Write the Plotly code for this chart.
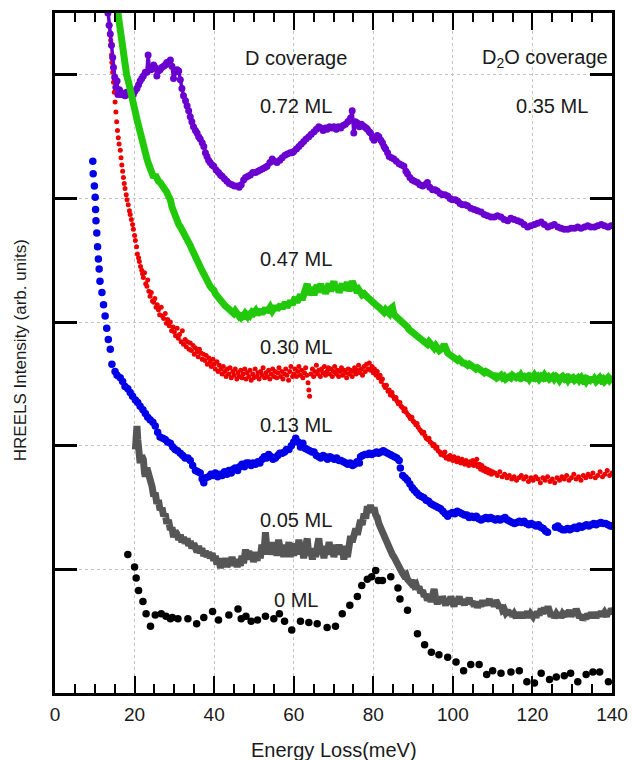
import plotly.graph_objects as go

# HREELS spectra of D2O (0.35 ML) on surfaces with increasing pre-adsorbed D coverage.
# Each spectrum is a list of (energy loss in meV, intensity in arb. units, incl. vertical offset).

D_000 = [(18.3,1.12),(20.0,1.02),(20.4,0.93),(21.0,0.83),(22.1,0.74),(22.9,0.64),(24.0,0.54),(25.2,0.63),
         (26.7,0.64),(27.9,0.62),(29.0,0.60),(29.5,0.61),(30.9,0.60),(33.4,0.60),(35.6,0.56),(37.4,0.61),
         (39.6,0.66),(41.1,0.59),(43.7,0.63),(46.0,0.68),(46.8,0.60),(48.0,0.62),(49.3,0.58),(50.9,0.59),
         (52.9,0.62),(55.0,0.60),(56.4,0.64),(57.7,0.58),(59.5,0.51),(61.7,0.58),(63.8,0.57),(65.9,0.56),
         (68.4,0.53),(70.5,0.54),(72.2,0.64),(74.1,0.71),(76.0,0.78),(77.1,0.87),(78.5,0.92),(79.6,0.94),
         (80.6,0.99),(81.3,0.91),(82.3,0.91),(84.4,0.94),(86.2,0.85),(86.7,0.76),(88.6,0.67),(91.1,0.48),
         (92.9,0.39),(94.6,0.33),(96.5,0.31),(98.7,0.29),(100.8,0.25),(102.7,0.18),(104.5,0.23),(106.6,0.23),
         (108.5,0.15),(110.0,0.18),(112.1,0.16),(114.6,0.17),(116.7,0.18),(118.6,0.09),(120.5,0.08),(122.2,0.16),
         (124.3,0.11),(126.0,0.13),(128.0,0.14),(129.6,0.16),(131.4,0.09),(133.5,0.15),(135.2,0.17),(136.9,0.17),
         (139.1,0.09)]

D_005 = [(20.2,1.97),(20.4,2.10),(20.6,2.16),(20.8,2.05),(21.0,1.99),(21.2,1.90),(21.4,1.86),(21.8,1.92),
         (22.2,1.89),(22.5,1.78),(22.7,1.75),(23.1,1.82),(23.5,1.78),(23.9,1.70),(24.4,1.67),(24.8,1.59),
         (25.2,1.62),(25.6,1.53),(26.0,1.56),(26.4,1.48),(26.9,1.50),(27.3,1.43),(27.7,1.45),(28.1,1.37),
         (28.5,1.40),(29.0,1.32),(29.4,1.34),(29.8,1.26),(30.2,1.31),(30.6,1.29),(31.1,1.24),(31.5,1.28),
         (31.9,1.22),(32.3,1.26),(32.7,1.21),(33.2,1.25),(33.6,1.19),(34.0,1.23),(34.4,1.17),(34.9,1.21),
         (35.3,1.18),(35.7,1.14),(36.1,1.19),(36.5,1.13),(36.9,1.17),(37.4,1.11),(37.8,1.15),(38.2,1.10),
         (38.6,1.14),(39.0,1.09),(39.5,1.13),(39.9,1.07),(40.3,1.11),(40.7,1.04),(41.2,1.09),(41.6,1.01),
         (42.0,1.07),(42.4,1.03),(42.8,1.09),(43.2,1.02),(43.7,1.07),(44.1,1.03),(44.5,1.10),(44.9,1.04),
         (45.3,1.08),(45.8,1.02),(46.2,1.07),(46.6,1.03),(47.0,1.11),(47.4,1.05),(47.9,1.16),(48.3,1.09),
         (48.7,1.15),(49.1,1.08),(49.5,1.14),(49.9,1.06),(50.4,1.12),(50.8,1.07),(51.2,1.14),(51.6,1.09),
         (52.0,1.20),(52.5,1.12),(52.9,1.30),(53.3,1.14),(53.7,1.22),(54.1,1.12),(54.6,1.19),(55.0,1.13),
         (55.4,1.22),(55.8,1.11),(56.2,1.24),(56.7,1.14),(57.1,1.20),(57.5,1.10),(57.9,1.19),(58.3,1.12),
         (58.8,1.22),(59.2,1.10),(59.6,1.18),(60.0,1.11),(60.4,1.21),(60.8,1.13),(61.3,1.24),(61.7,1.12),
         (62.1,1.20),(62.5,1.09),(62.9,1.18),(63.4,1.25),(63.8,1.11),(64.2,1.17),(64.7,1.08),(65.1,1.16),
         (65.5,1.10),(65.9,1.22),(66.3,1.25),(66.8,1.12),(67.2,1.19),(67.6,1.09),(68.0,1.18),(68.4,1.12),
         (68.9,1.22),(69.3,1.14),(69.7,1.20),(70.1,1.10),(70.5,1.17),(71.0,1.12),(71.4,1.20),(71.8,1.13),
         (72.2,1.19),(72.6,1.08),(73.0,1.15),(73.5,1.10),(73.9,1.20),(74.3,1.27),(74.7,1.22),(75.1,1.29),
         (75.6,1.33),(76.0,1.28),(76.4,1.36),(76.8,1.40),(77.2,1.36),(77.7,1.45),(78.1,1.41),(78.5,1.51),
         (78.9,1.47),(79.3,1.52),(79.7,1.46),(80.2,1.50),(80.6,1.44),(81.0,1.42),(81.4,1.37),(81.9,1.33),
         (82.3,1.30),(82.7,1.26),(83.1,1.24),(83.5,1.20),(83.9,1.18),(84.4,1.16),(84.8,1.12),(85.2,1.10),
         (85.6,1.07),(86.1,1.04),(86.5,1.02),(86.9,1.00),(87.3,0.97),(87.7,0.95),(88.2,0.96),(88.6,0.92),
         (89.0,0.91),(89.4,0.89),(89.8,0.91),(90.3,0.87),(90.7,0.88),(91.1,0.84),(91.5,0.86),(91.9,0.81),
         (92.4,0.83),(92.8,0.78),(93.2,0.80),(93.6,0.75),(94.0,0.78),(94.5,0.74),(94.9,0.79),(95.3,0.84),
         (95.7,0.76),(96.1,0.72),(96.6,0.77),(97.0,0.73),(97.4,0.78),(97.8,0.74),(98.2,0.71),(98.7,0.76),
         (99.1,0.72),(99.5,0.78),(99.9,0.73),(100.3,0.70),(100.8,0.76),(101.2,0.74),(101.6,0.78),(102.0,0.72),
         (102.5,0.75),(102.9,0.71),(103.3,0.76),(103.7,0.73),(104.1,0.77),(104.5,0.72),(105.0,0.74),(105.4,0.70),
         (105.8,0.74),(106.2,0.69),(106.6,0.73),(107.1,0.70),(107.5,0.75),(107.9,0.71),(108.3,0.74),(108.7,0.72),
         (109.2,0.76),(109.6,0.71),(110.0,0.74),(110.4,0.70),(110.8,0.75),(111.2,0.72),(111.7,0.69),(112.1,0.71),
         (112.5,0.67),(112.9,0.68),(113.3,0.65),(113.8,0.67),(114.2,0.63),(114.6,0.66),(115.0,0.62),(115.4,0.64),
         (115.9,0.61),(116.3,0.65),(116.7,0.62),(117.1,0.64),(117.5,0.61),(118.0,0.65),(118.4,0.62),(118.8,0.66),
         (119.2,0.61),(119.6,0.64),(120.1,0.62),(120.5,0.65),(120.9,0.61),(121.3,0.66),(121.7,0.63),(122.2,0.68),
         (122.6,0.64),(123.0,0.69),(123.4,0.65),(123.9,0.70),(124.3,0.64),(124.7,0.62),(125.1,0.65),(125.5,0.61),
         (126.0,0.64),(126.4,0.62),(126.8,0.65),(127.2,0.61),(127.6,0.64),(128.1,0.62),(128.5,0.66),(128.9,0.63),
         (129.3,0.67),(129.7,0.62),(130.2,0.66),(130.6,0.63),(131.0,0.68),(131.4,0.64),(131.8,0.61),(132.3,0.63),
         (132.7,0.59),(133.1,0.62),(133.5,0.60),(133.9,0.64),(134.4,0.61),(134.8,0.65),(135.2,0.62),(135.6,0.64),
         (136.0,0.61),(136.5,0.65),(136.9,0.62),(137.3,0.66),(137.7,0.63),(138.1,0.65),(138.6,0.62),(139.0,0.66),
         (139.4,0.64),(139.8,0.68),(140.2,0.66)]

D_013 = [(9.5,4.30),(9.6,4.20),(9.9,4.10),(10.1,4.01),(10.2,3.91),(10.3,3.82),(10.5,3.72),(10.7,3.61),
         (10.9,3.51),(11.1,3.43),(11.3,3.33),(11.8,3.24),(12.2,3.14),(12.6,3.05),(13.0,2.95),(13.4,2.86),
         (13.9,2.78),(14.3,2.66),(15.1,2.60),(15.6,2.57),(16.4,2.55),(17.0,2.52),(17.6,2.48),(18.3,2.46),
         (18.9,2.43),(19.5,2.40),(20.2,2.37),(20.8,2.35),(21.4,2.32),(22.1,2.29),(22.7,2.26),(23.3,2.23),
         (23.9,2.21),(24.6,2.19),(25.2,2.16),(25.8,2.11),(26.4,2.07),(27.1,2.06),(27.7,2.05),(28.3,2.03),
         (29.0,2.02),(29.6,1.99),(30.2,1.97),(30.8,1.96),(31.5,1.94),(32.1,1.92),(32.7,1.90),(33.4,1.90),
         (34.0,1.88),(34.6,1.84),(35.3,1.80),(35.9,1.79),(36.5,1.78),(37.0,1.73),(37.4,1.70),(37.9,1.74),
         (38.6,1.75),(39.2,1.77),(39.8,1.76),(40.3,1.78),(40.9,1.75),(41.5,1.77),(42.0,1.76),(42.6,1.79),
         (43.2,1.77),(43.7,1.80),(44.3,1.78),(44.8,1.81),(45.3,1.82),(45.9,1.80),(46.4,1.83),(47.0,1.85),
         (47.6,1.83),(48.1,1.86),(48.7,1.86),(49.3,1.84),(49.8,1.86),(50.4,1.85),(51.0,1.87),(51.5,1.86),
         (52.1,1.89),(52.6,1.91),(53.2,1.90),(53.7,1.93),(54.3,1.91),(54.8,1.89),(55.4,1.90),(56.0,1.92),
         (56.5,1.94),(57.1,1.94),(57.7,1.95),(58.2,1.97),(58.8,1.97),(59.4,2.00),(60.0,2.03),(60.5,2.06),
         (61.1,2.03),(61.7,1.99),(62.3,2.02),(62.8,1.98),(63.4,1.97),(64.0,1.96),(64.6,1.95),(65.1,1.95),
         (65.7,1.92),(66.3,1.91),(66.8,1.90),(67.4,1.92),(68.0,1.91),(68.5,1.89),(69.1,1.91),(69.7,1.90),
         (70.2,1.89),(70.8,1.90),(71.4,1.88),(71.9,1.88),(72.5,1.87),(73.1,1.86),(73.6,1.85),(74.2,1.86),
         (74.8,1.84),(75.3,1.85),(75.9,1.87),(76.5,1.86),(76.8,1.91),(77.3,1.92),(77.9,1.93),(78.5,1.93),
         (79.0,1.94),(79.6,1.93),(80.2,1.94),(80.8,1.95),(81.3,1.94),(81.9,1.95),(82.5,1.96),(83.0,1.95),
         (83.6,1.94),(84.2,1.93),(84.7,1.92),(85.3,1.91),(85.9,1.90),(86.5,1.88),(86.8,1.82),(87.4,1.76),
         (88.0,1.74),(88.6,1.72),(89.2,1.69),(89.8,1.66),(90.3,1.64),(90.9,1.62),(91.5,1.60),(92.1,1.59),
         (92.7,1.58),(93.3,1.56),(93.9,1.55),(94.5,1.53),(95.1,1.52),(95.7,1.51),(96.3,1.50),(96.9,1.49),
         (97.5,1.47),(98.1,1.45),(98.7,1.43),(99.3,1.45),(99.9,1.46),(100.5,1.45),(101.1,1.47),(101.7,1.46),
         (102.3,1.45),(102.9,1.44),(103.5,1.44),(104.1,1.42),(104.7,1.43),(105.3,1.42),(105.9,1.43),(106.5,1.41),
         (107.1,1.40),(107.7,1.41),(108.3,1.42),(108.9,1.41),(109.5,1.42),(110.1,1.41),(110.7,1.40),(111.3,1.41),
         (111.9,1.40),(112.5,1.41),(113.1,1.42),(113.7,1.40),(114.3,1.39),(114.9,1.38),(115.5,1.37),(116.1,1.38),
         (116.7,1.39),(117.3,1.38),(117.9,1.39),(118.5,1.37),(119.1,1.36),(119.7,1.37),(120.3,1.36),(120.9,1.35),
         (121.5,1.36),(122.1,1.34),(122.7,1.33),(123.3,1.31),(123.8,1.30),(125.8,1.34),(126.4,1.35),(127.0,1.33),
         (127.6,1.32),(128.2,1.32),(128.8,1.33),(129.4,1.32),(130.0,1.33),(130.6,1.34),(131.2,1.33),(131.8,1.35),
         (132.4,1.34),(133.0,1.35),(133.6,1.36),(134.2,1.35),(134.8,1.36),(135.4,1.37),(136.0,1.36),(136.6,1.37),
         (137.2,1.38),(137.8,1.37),(138.4,1.37),(139.0,1.36),(139.6,1.35),(140.1,1.35)]

D_030 = [(13.8,5.40),(14.0,5.28),(14.2,5.16),(14.3,5.10),(14.5,5.02),(14.7,4.94),(14.9,4.86),(15.1,4.78),
         (15.3,4.70),(15.5,4.62),(15.7,4.55),(15.9,4.49),(16.1,4.44),(16.4,4.39),(16.6,4.33),(16.8,4.27),
         (17.0,4.22),(17.2,4.17),(17.4,4.12),(17.6,4.08),(17.9,4.03),(18.1,3.99),(18.4,3.95),(18.7,3.90),
         (18.9,3.87),(19.2,3.83),(19.5,3.79),(19.7,3.75),(20.0,3.70),(20.2,3.66),(20.5,3.61),(20.7,3.55),
         (21.0,3.52),(21.2,3.49),(21.5,3.45),(21.8,3.42),(22.0,3.39),(22.2,3.36),(22.5,3.40),(22.8,3.31),
         (23.1,3.29),(23.3,3.34),(23.6,3.25),(23.9,3.21),(24.2,3.24),(24.5,3.17),(24.8,3.16),(25.1,3.19),
         (25.4,3.12),(25.7,3.14),(26.0,3.10),(26.3,3.06),(26.7,3.12),(27.0,3.05),(27.3,3.03),(27.7,3.07),
         (28.0,2.99),(28.3,3.02),(28.7,2.97),(29.0,3.00),(29.3,2.93),(29.7,2.96),(30.0,2.92),(30.3,2.89),
         (30.7,2.95),(31.0,2.87),(31.3,2.90),(31.7,2.84),(32.0,2.93),(32.3,2.82),(32.7,2.86),(33.0,2.80),
         (33.3,2.84),(33.7,2.78),(34.0,2.83),(34.3,2.77),(34.7,2.81),(35.0,2.74),(35.3,2.79),(35.7,2.76),
         (36.0,2.72),(36.3,2.78),(36.7,2.75),(37.0,2.70),(37.3,2.74),(37.7,2.69),(38.0,2.73),(38.3,2.66),
         (38.7,2.71),(39.0,2.68),(39.3,2.64),(39.7,2.70),(40.0,2.66),(40.3,2.62),(40.7,2.68),(41.0,2.60),
         (41.3,2.65),(41.7,2.62),(42.0,2.58),(42.3,2.64),(42.7,2.60),(43.0,2.56),(43.3,2.62),(43.7,2.58),
         (44.0,2.63),(44.3,2.55),(44.7,2.60),(45.0,2.57),(45.3,2.62),(45.7,2.54),(46.0,2.59),(46.3,2.56),
         (46.7,2.61),(47.0,2.55),(47.3,2.58),(47.7,2.62),(48.0,2.54),(48.3,2.59),(48.7,2.56),(49.0,2.61),
         (49.3,2.53),(49.7,2.58),(50.0,2.55),(50.3,2.62),(50.7,2.56),(51.0,2.59),(51.3,2.54),(51.7,2.60),
         (52.0,2.57),(52.3,2.63),(52.7,2.55),(53.0,2.59),(53.3,2.56),(53.7,2.61),(54.0,2.54),(54.3,2.58),
         (54.7,2.62),(55.0,2.56),(55.3,2.60),(55.7,2.55),(56.0,2.59),(56.3,2.63),(56.7,2.56),(57.0,2.60),
         (57.3,2.54),(57.7,2.58),(58.0,2.62),(58.3,2.57),(58.7,2.53),(59.0,2.60),(59.3,2.64),(59.7,2.56),
         (60.0,2.58),(60.3,2.62),(60.7,2.56),(61.0,2.60),(61.3,2.64),(61.7,2.57),(62.0,2.61),(62.3,2.55),
         (62.7,2.59),(63.0,2.63),(63.3,2.57),(63.6,2.51),(63.8,2.45),(64.0,2.40),(64.3,2.58),(64.7,2.62),
         (65.0,2.56),(65.3,2.60),(65.7,2.65),(66.0,2.58),(66.3,2.61),(66.7,2.56),(67.0,2.62),(67.3,2.59),
         (67.7,2.64),(68.0,2.57),(68.3,2.60),(68.7,2.63),(69.0,2.58),(69.3,2.62),(69.7,2.56),(70.0,2.60),
         (70.3,2.64),(70.7,2.58),(71.0,2.61),(71.3,2.56),(71.7,2.60),(72.0,2.63),(72.3,2.57),(72.7,2.61),
         (73.0,2.59),(73.3,2.55),(73.7,2.62),(74.0,2.58),(74.3,2.61),(74.7,2.56),(75.0,2.60),(75.3,2.63),
         (75.7,2.58),(76.0,2.61),(76.3,2.65),(76.7,2.59),(77.0,2.62),(77.3,2.57),(77.7,2.64),(78.0,2.60),
         (78.3,2.66),(78.7,2.62),(79.0,2.67),(79.3,2.61),(79.7,2.64),(80.0,2.59),(80.3,2.62),(80.7,2.57),
         (81.0,2.60),(81.3,2.55),(81.7,2.57),(82.0,2.52),(82.3,2.54),(82.7,2.49),(83.0,2.47),(83.3,2.49),
         (83.7,2.44),(84.0,2.45),(84.3,2.41),(84.7,2.43),(85.0,2.40),(85.3,2.38),(85.7,2.39),(86.0,2.36),
         (86.3,2.34),(86.7,2.35),(87.0,2.32),(87.3,2.31),(87.7,2.28),(88.0,2.30),(88.3,2.27),(88.7,2.25),
         (89.0,2.24),(89.3,2.22),(89.7,2.23),(90.0,2.20),(90.3,2.19),(90.7,2.17),(91.0,2.18),(91.3,2.15),
         (91.7,2.13),(92.0,2.12),(92.3,2.10),(92.7,2.11),(93.0,2.08),(93.3,2.06),(93.7,2.05),(94.0,2.06),
         (94.3,2.03),(94.7,2.02),(95.0,2.00),(95.3,2.01),(95.7,1.98),(96.0,1.99),(96.3,1.96),(96.7,1.95),
         (97.0,1.93),(97.3,1.94),(97.7,1.92),(98.0,1.95),(98.3,1.90),(98.7,1.91),(99.0,1.89),(99.3,1.92),
         (99.7,1.90),(100.0,1.88),(100.3,1.91),(100.7,1.89),(101.0,1.87),(101.3,1.90),(101.7,1.88),(102.0,1.86),
         (102.3,1.89),(102.7,1.87),(103.0,1.85),(103.3,1.88),(103.7,1.86),(104.0,1.84),(104.3,1.87),(104.7,1.85),
         (105.0,1.88),(105.3,1.84),(105.7,1.86),(106.0,1.89),(106.3,1.83),(106.7,1.85),(107.0,1.81),(107.3,1.84),
         (107.7,1.80),(108.0,1.82),(108.3,1.79),(108.7,1.81),(109.0,1.78),(109.3,1.80),(109.7,1.77),(110.0,1.79),
         (110.6,1.78),(111.2,1.76),(111.8,1.79),(112.4,1.75),(113.0,1.77),(113.6,1.74),(114.2,1.76),(114.8,1.73),
         (115.4,1.75),(116.0,1.72),(116.6,1.74),(117.2,1.76),(117.8,1.73),(118.4,1.75),(119.0,1.71),(119.6,1.74),
         (120.2,1.72),(120.8,1.75),(121.4,1.73),(122.0,1.70),(122.6,1.74),(123.2,1.72),(123.8,1.75),(124.4,1.71),
         (125.0,1.73),(125.6,1.70),(126.2,1.74),(126.8,1.72),(127.4,1.75),(128.0,1.73),(128.6,1.76),(129.2,1.72),
         (129.8,1.74),(130.4,1.77),(131.0,1.73),(131.6,1.75),(132.2,1.72),(132.8,1.76),(133.4,1.74),(134.0,1.77),
         (134.6,1.75),(135.2,1.78),(135.8,1.74),(136.4,1.76),(137.0,1.79),(137.6,1.75),(138.2,1.77),(138.8,1.80),
         (139.4,1.76),(140.0,1.78)]

D_047 = [(15.6,5.55),(15.9,5.48),(16.2,5.38),(16.5,5.30),(16.8,5.24),(17.2,5.15),(17.6,5.07),(18.0,5.00),
         (18.5,4.94),(18.9,4.87),(19.3,4.80),(19.8,4.75),(20.2,4.70),(20.6,4.64),(21.0,4.59),(21.4,4.53),
         (21.8,4.48),(22.2,4.40),(22.7,4.35),(23.1,4.32),(23.5,4.28),(23.9,4.25),(24.4,4.21),(24.8,4.17),
         (25.2,4.19),(25.6,4.15),(26.0,4.14),(26.4,4.13),(26.9,4.11),(27.3,4.10),(27.7,4.07),(28.1,4.05),
         (28.5,4.02),(29.0,3.99),(29.4,3.93),(29.8,3.89),(30.2,3.86),(30.6,3.83),(31.1,3.79),(31.5,3.77),
         (31.9,3.75),(32.3,3.72),(32.8,3.69),(33.2,3.67),(33.6,3.64),(34.0,3.62),(34.4,3.59),(34.9,3.55),
         (35.3,3.53),(35.7,3.50),(36.1,3.47),(36.5,3.44),(36.9,3.42),(37.4,3.39),(37.8,3.36),(38.2,3.34),
         (38.6,3.31),(39.0,3.29),(39.5,3.27),(39.9,3.26),(40.3,3.23),(40.7,3.21),(41.2,3.19),(41.6,3.18),
         (42.0,3.15),(42.4,3.14),(42.8,3.13),(43.2,3.12),(43.7,3.10),(44.1,3.09),(44.5,3.08),(44.9,3.07),
         (45.3,3.09),(45.7,3.06),(46.2,3.05),(46.6,3.07),(47.0,3.04),(47.4,3.05),(47.8,3.07),(48.3,3.05),
         (48.7,3.08),(49.1,3.06),(49.5,3.08),(49.9,3.07),(50.4,3.09),(50.8,3.06),(51.2,3.08),(51.6,3.10),
         (52.0,3.07),(52.5,3.09),(52.9,3.11),(53.3,3.08),(53.7,3.10),(54.1,3.12),(54.6,3.09),(55.0,3.11),
         (55.4,3.13),(55.8,3.10),(56.2,3.12),(56.7,3.14),(57.1,3.11),(57.5,3.13),(57.9,3.16),(58.3,3.12),
         (58.8,3.15),(59.2,3.17),(59.6,3.14),(60.0,3.17),(60.4,3.20),(60.8,3.16),(61.3,3.19),(61.7,3.22),
         (62.1,3.18),(62.5,3.21),(62.9,3.25),(63.4,3.31),(63.8,3.22),(64.2,3.25),(64.6,3.28),(65.1,3.22),
         (65.5,3.27),(65.9,3.30),(66.3,3.24),(66.8,3.31),(67.2,3.25),(67.6,3.29),(68.0,3.23),(68.4,3.27),
         (68.9,3.31),(69.3,3.25),(69.7,3.28),(70.1,3.33),(70.5,3.26),(71.0,3.29),(71.4,3.24),(71.8,3.27),
         (72.2,3.31),(72.6,3.26),(73.1,3.29),(73.5,3.32),(73.9,3.25),(74.3,3.28),(74.7,3.33),(75.1,3.30),
         (75.6,3.27),(76.0,3.24),(76.4,3.26),(76.8,3.24),(77.2,3.22),(77.7,3.23),(78.1,3.21),(78.5,3.20),
         (78.9,3.19),(79.3,3.18),(79.8,3.17),(80.2,3.16),(80.6,3.14),(81.0,3.13),(81.4,3.12),(81.9,3.10),
         (82.3,3.09),(82.7,3.08),(83.1,3.10),(83.5,3.08),(84.0,3.07),(84.4,3.11),(84.8,3.12),(85.2,3.06),
         (85.6,3.05),(86.1,3.04),(86.5,3.03),(86.9,3.02),(87.3,3.01),(87.7,2.99),(88.2,2.97),(88.6,2.96),
         (89.0,2.94),(89.4,2.93),(89.8,2.92),(90.3,2.91),(90.7,2.89),(91.1,2.89),(91.5,2.88),(91.9,2.86),
         (92.4,2.86),(92.8,2.84),(93.2,2.83),(93.6,2.82),(94.0,2.84),(94.5,2.81),(94.9,2.80),(95.3,2.79),
         (95.7,2.81),(96.1,2.78),(96.6,2.77),(97.0,2.78),(97.4,2.79),(97.8,2.82),(98.2,2.77),(98.7,2.75),
         (99.1,2.74),(99.5,2.73),(99.9,2.72),(100.3,2.72),(100.8,2.71),(101.2,2.69),(101.6,2.70),(102.0,2.68),
         (102.5,2.67),(102.9,2.67),(103.3,2.66),(103.7,2.65),(104.1,2.66),(104.5,2.64),(105.0,2.64),(105.4,2.63),
         (105.8,2.62),(106.2,2.63),(106.6,2.61),(107.1,2.61),(107.5,2.60),(107.9,2.59),(108.3,2.60),(108.7,2.59),
         (109.2,2.58),(109.6,2.58),(110.0,2.57),(110.4,2.56),(110.8,2.58),(111.2,2.55),(111.7,2.56),(112.1,2.57),
         (112.5,2.55),(112.9,2.56),(113.3,2.54),(113.8,2.55),(114.2,2.56),(114.6,2.55),(115.0,2.57),(115.4,2.56),
         (115.9,2.55),(116.3,2.56),(116.7,2.55),(117.1,2.57),(117.5,2.55),(118.0,2.56),(118.4,2.55),(118.8,2.56),
         (119.2,2.54),(119.6,2.56),(120.1,2.55),(120.5,2.57),(120.9,2.55),(121.3,2.56),(121.7,2.54),(122.2,2.56),
         (122.6,2.55),(123.0,2.57),(123.4,2.55),(123.9,2.56),(124.3,2.54),(124.7,2.55),(125.1,2.56),(125.5,2.54),
         (126.0,2.56),(126.4,2.55),(126.8,2.53),(127.2,2.55),(127.6,2.56),(128.1,2.54),(128.5,2.55),(128.9,2.53),
         (129.3,2.55),(129.7,2.54),(130.2,2.55),(130.6,2.53),(131.0,2.54),(131.4,2.55),(131.8,2.53),(132.3,2.55),
         (132.7,2.53),(133.1,2.54),(133.5,2.52),(133.9,2.54),(134.4,2.53),(134.8,2.55),(135.2,2.52),(135.6,2.54),
         (136.0,2.52),(136.5,2.53),(136.9,2.55),(137.3,2.53),(137.7,2.54),(138.1,2.52),(138.6,2.54),(139.0,2.55),
         (139.4,2.53),(139.8,2.55),(140.2,2.56)]

D_072 = [(13.0,5.62),(13.3,5.50),(13.6,5.40),(13.9,5.33),(14.2,5.24),(14.5,5.14),(14.7,5.06),(15.0,4.98),
         (15.3,4.90),(15.6,4.95),(15.8,4.84),(16.2,4.88),(16.6,4.84),(17.1,4.85),(17.6,4.83),(18.0,4.86),
         (18.4,4.85),(18.9,4.84),(19.3,4.86),(19.7,4.84),(20.1,4.87),(20.6,4.89),(21.0,4.92),(21.4,4.95),
         (21.8,4.97),(22.2,4.99),(22.7,5.02),(23.1,5.02),(23.4,5.16),(23.7,5.06),(24.1,5.04),(24.4,5.05),
         (24.8,5.08),(25.2,5.06),(25.6,4.99),(26.0,5.03),(26.4,5.04),(26.8,5.06),(27.3,5.07),(27.7,5.08),
         (28.1,5.10),(28.5,5.09),(29.0,5.12),(29.4,5.07),(29.8,4.97),(30.2,5.02),(30.7,5.04),(31.1,5.03),
         (31.5,4.96),(31.9,4.89),(32.3,4.83),(32.8,4.79),(33.2,4.75),(33.6,4.71),(34.0,4.66),(34.4,4.62),
         (34.8,4.58),(35.3,4.55),(35.7,4.53),(36.1,4.50),(36.5,4.48),(37.0,4.45),(37.4,4.42),(37.8,4.37),
         (38.2,4.34),(38.6,4.31),(39.0,4.29),(39.5,4.27),(39.9,4.26),(40.5,4.23),(41.1,4.21),(41.6,4.19),
         (42.0,4.18),(42.6,4.16),(43.2,4.14),(43.8,4.12),(44.5,4.11),(45.1,4.10),(45.8,4.10),(46.3,4.09),
         (46.8,4.11),(47.4,4.15),(47.9,4.17),(48.5,4.18),(49.1,4.19),(49.7,4.21),(50.4,4.21),(51.0,4.22),
         (51.6,4.23),(52.2,4.24),(52.8,4.25),(53.3,4.26),(54.0,4.29),(54.6,4.32),(55.2,4.30),(55.8,4.29),
         (56.5,4.31),(57.1,4.33),(57.8,4.35),(58.4,4.36),(59.1,4.37),(59.6,4.37),(60.0,4.38),(60.7,4.40),
         (61.3,4.42),(61.9,4.44),(62.5,4.46),(63.1,4.48),(63.8,4.50),(64.4,4.52),(65.1,4.54),(65.7,4.56),
         (66.3,4.58),(66.8,4.57),(67.4,4.55),(68.0,4.57),(68.4,4.56),(69.0,4.58),(69.6,4.57),(70.1,4.58),
         (70.7,4.56),(71.2,4.58),(71.8,4.57),(72.4,4.59),(73.0,4.60),(73.6,4.62),(74.0,4.63),(74.3,4.65),
         (74.7,4.71),(75.1,4.53),(75.5,4.62),(76.0,4.61),(76.5,4.58),(77.0,4.60),(77.3,4.59),(77.8,4.58),
         (78.2,4.57),(78.5,4.56),(79.0,4.54),(79.3,4.53),(79.8,4.49),(80.2,4.47),(80.7,4.49),(81.0,4.51),
         (81.4,4.50),(81.9,4.47),(82.3,4.45),(82.7,4.42),(83.1,4.40),(83.6,4.37),(84.0,4.34),(84.6,4.33),
         (85.2,4.32),(85.8,4.30),(86.5,4.28),(87.1,4.27),(87.7,4.26),(88.2,4.22),(88.6,4.20),(89.2,4.17),
         (89.8,4.15),(90.4,4.14),(91.1,4.13),(91.7,4.11),(92.4,4.10),(93.0,4.11),(93.6,4.13),(94.2,4.09),
         (94.9,4.07),(95.5,4.07),(96.1,4.06),(96.8,4.04),(97.4,4.03),(98.0,4.03),(98.7,4.02),(99.3,4.00),
         (99.9,3.99),(100.6,3.99),(101.2,3.98),(101.8,3.96),(102.4,3.95),(103.1,3.95),(103.7,3.94),(104.5,3.92),
         (105.4,3.91),(106.2,3.90),(107.1,3.89),(107.9,3.87),(108.7,3.86),(109.6,3.85),(110.4,3.85),(111.2,3.86),
         (112.1,3.85),(112.9,3.83),(113.8,3.82),(114.6,3.84),(115.4,3.83),(116.3,3.82),(117.1,3.81),(117.9,3.79),
         (118.8,3.77),(119.6,3.78),(120.5,3.79),(121.3,3.80),(122.2,3.81),(123.0,3.79),(123.9,3.77),(124.7,3.78),
         (125.5,3.79),(126.4,3.77),(127.2,3.76),(128.0,3.75),(128.9,3.75),(129.7,3.76),(130.6,3.76),(131.4,3.77),
         (132.2,3.76),(133.1,3.77),(133.9,3.78),(134.7,3.77),(135.6,3.77),(136.4,3.78),(137.3,3.79),(138.1,3.78),
         (139.0,3.77),(139.8,3.78)]

# Label positions (data coordinates) for the coverage annotations
COVERAGE_LABELS = ["0 ML", "0.05 ML", "0.13 ML", "0.30 ML", "0.47 ML", "0.72 ML"]
LABEL_Y = [0.75, 1.40, 2.17, 2.80, 3.51, 4.75]
X_TICKS = [0, 20, 40, 60, 80, 100, 120, 140]
Y_TICKS = [1, 2, 3, 4, 5]

FONT = "Liberation Sans, Arial, sans-serif"
TEXT_COLOR = "#1a1a1a"


def unzip(points):
    return [p[0] for p in points], [p[1] for p in points]


fig = go.Figure()

# 0 ML: large black dots
x, y = unzip(D_000)
fig.add_trace(go.Scatter(x=x, y=y, mode="markers",
                         marker=dict(size=7.5, color="#000000")))

# 0.05 ML: thick dark-grey trace
x, y = unzip(D_005)
fig.add_trace(go.Scatter(x=x, y=y, mode="lines",
                         line=dict(color="#565656", width=7)))

# 0.13 ML: blue dots
x, y = unzip(D_013)
fig.add_trace(go.Scatter(x=x, y=y, mode="markers",
                         marker=dict(size=7.5, color="#0000e8")))

# 0.30 ML: small red dots
x, y = unzip(D_030)
fig.add_trace(go.Scatter(x=x, y=y, mode="markers",
                         marker=dict(size=5, color="#ee0000")))

# 0.72 ML: violet dotted chain
x, y = unzip(D_072)
fig.add_trace(go.Scatter(x=x, y=y, mode="lines+markers",
                         line=dict(color="#6a00d0", width=3.5),
                         marker=dict(size=7, color="#6a00d0")))

# 0.47 ML: thick green trace
x, y = unzip(D_047)
fig.add_trace(go.Scatter(x=x, y=y, mode="lines",
                         line=dict(color="#22c80a", width=7)))

LABEL_FONT = dict(family=FONT, size=20, color=TEXT_COLOR)

annotations = []
for label, ly in zip(COVERAGE_LABELS, LABEL_Y):
    annotations.append(dict(x=60.5, y=ly, xref="x", yref="y", text=label, showarrow=False,
                            xanchor="center", yanchor="middle", font=LABEL_FONT))
annotations += [
    dict(x=60.5, y=5.14, xref="x", yref="y", text="D coverage", showarrow=False,
         xanchor="center", yanchor="middle", font=LABEL_FONT),
    dict(x=139.6, y=5.13, xref="x", yref="y", text="D<sub>2</sub>O coverage", showarrow=False,
         xanchor="right", yanchor="middle", font=LABEL_FONT),
    dict(x=124.9, y=4.75, xref="x", yref="y", text="0.35 ML", showarrow=False,
         xanchor="center", yanchor="middle", font=LABEL_FONT),
    dict(x=0.5, y=-0.084, xref="paper", yref="paper", text="Energy Loss(meV)", showarrow=False,
         xanchor="center", yanchor="middle", font=dict(family=FONT, size=20, color=TEXT_COLOR)),
    dict(x=-0.063, y=0.504, xref="paper", yref="paper", text="HREELS Intensity (arb. units)",
         showarrow=False, textangle=-90, xanchor="center", yanchor="middle",
         font=dict(family=FONT, size=17, color=TEXT_COLOR)),
]

fig.update_layout(
    width=632, height=760,
    margin=dict(l=55, r=20, t=13, b=67, autoexpand=False),
    paper_bgcolor="white", plot_bgcolor="white",
    showlegend=False,
    font=dict(family=FONT, size=19, color=TEXT_COLOR),
    annotations=annotations,
)

fig.update_xaxes(
    range=[0, 140], tickvals=X_TICKS, ticktext=[str(t) for t in X_TICKS],
    ticks="inside", ticklen=17, tickwidth=2, tickcolor="black",
    showline=True, linewidth=2.5, linecolor="black", mirror="ticks",
    showgrid=True, gridcolor="#c4c4c4", griddash="dot", gridwidth=1,
    zeroline=False, automargin=False, ticklabelstandoff=2,
    tickfont=dict(family=FONT, size=19, color=TEXT_COLOR),
    minor=dict(dtick=5, tick0=0, ticks="inside", ticklen=9, tickwidth=2,
               tickcolor="black", showgrid=False),
)

fig.update_yaxes(
    range=[0, 5.5], tickvals=Y_TICKS, showticklabels=False,
    ticks="inside", ticklen=22, tickwidth=2.5, tickcolor="black",
    showline=True, linewidth=2.5, linecolor="black", mirror="ticks",
    showgrid=True, gridcolor="#c4c4c4", griddash="dot", gridwidth=1,
    zeroline=False, automargin=False,
)

fig.write_html("out.html")
